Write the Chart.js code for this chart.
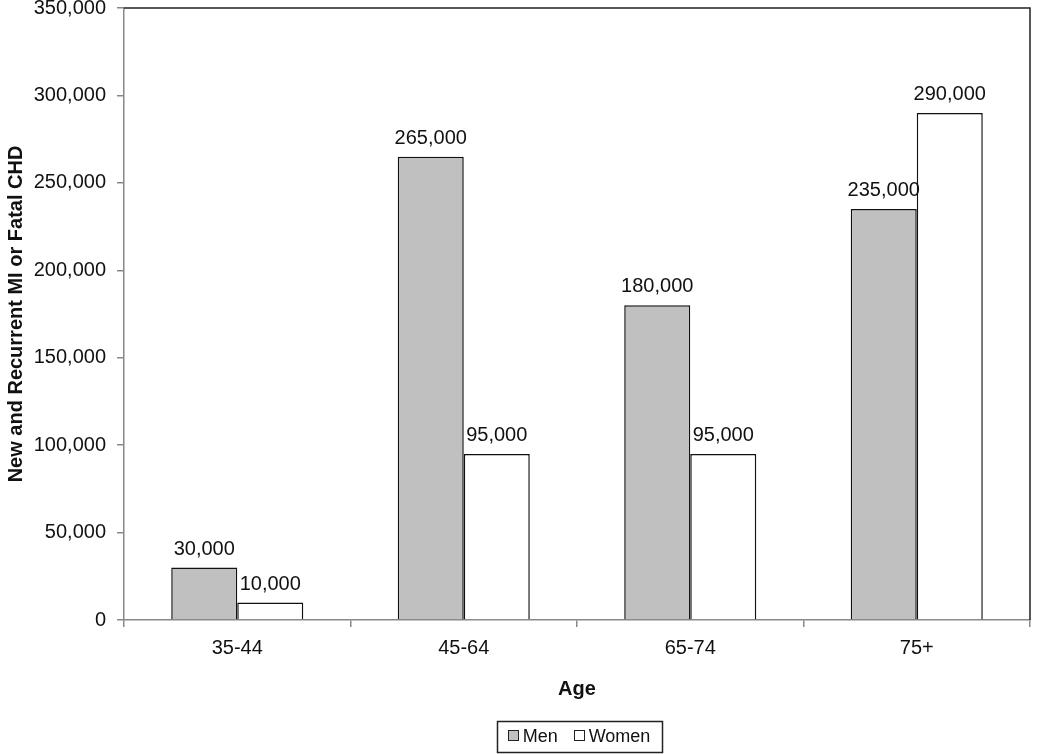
<!DOCTYPE html>
<html>
<head>
<meta charset="utf-8">
<script src="https://cdn.jsdelivr.net/npm/chart.js@4"></script>
<style>
  html, body { margin: 0; padding: 0; background: #fff; }
  #wrap { width: 1050px; height: 754px; }
</style>
</head>
<body>
<div id="wrap"><canvas id="chart" width="1050" height="754"></canvas></div>
<script>
const categories = ['35-44', '45-64', '65-74', '75+'];
const men = [30000, 265000, 180000, 235000];
const women = [10000, 95000, 95000, 290000];
const yTicks = [0, 50000, 100000, 150000, 200000, 250000, 300000, 350000];

const FONT = 'Liberation Sans, Arial, sans-serif';
const fmt = v => v.toLocaleString('en-US');

// value labels over each bar
const barLabels = {
  id: 'barLabels',
  afterDatasetsDraw(chart) {
    const ctx = chart.ctx;
    ctx.save();
    ctx.font = '20px ' + FONT;
    ctx.fillStyle = '#111';
    ctx.textAlign = 'center';
    ctx.textBaseline = 'alphabetic';
    chart.data.datasets.forEach((ds, i) => {
      chart.getDatasetMeta(i).data.forEach((bar, j) => {
        ctx.fillText(fmt(ds.data[j]), bar.x, bar.y - 13);
      });
    });
    ctx.restore();
  }
};

// top/right frame of the plot, and a boxed legend under the axis title
const frame = {
  id: 'frame',
  afterDraw(chart) {
    const { ctx, chartArea: a } = chart;
    ctx.save();
    ctx.strokeStyle = '#222';
    ctx.lineWidth = 1.5;
    ctx.beginPath();
    ctx.moveTo(a.left, a.top);
    ctx.lineTo(a.right, a.top);
    ctx.lineTo(a.right, a.bottom);
    ctx.stroke();

    // legend
    ctx.font = '18px ' + FONT;
    ctx.textBaseline = 'middle';
    ctx.textAlign = 'left';
    const items = chart.data.datasets.map(ds => ({ label: ds.label, fill: ds.backgroundColor, w: ctx.measureText(ds.label).width }));
    const box = 10, gapText = 5, gapItem = 16, pad = 11;
    let total = items.reduce((s, it) => s + box + gapText + it.w, 0) + gapItem * (items.length - 1);
    const cx = (a.left + a.right) / 2 + 2;
    const cy = 736;
    const bw = total + pad * 2, bh = 31;
    ctx.lineWidth = 1.5;
    ctx.strokeRect(Math.round(cx - bw / 2) + 0.5, Math.round(cy - bh / 2) + 0.5, Math.round(bw), bh);
    let x = cx - total / 2;
    items.forEach(it => {
      ctx.fillStyle = it.fill;
      ctx.fillRect(Math.round(x) + 0.5, cy - 5.5, box, box);
      ctx.lineWidth = 1;
      ctx.strokeStyle = '#222';
      ctx.strokeRect(Math.round(x) + 0.5, cy - 5.5, box, box);
      x += box + gapText;
      ctx.fillStyle = '#111';
      ctx.fillText(it.label, x, cy + 1);
      x += it.w + gapItem;
    });
    ctx.restore();
  }
};

new Chart(document.getElementById('chart'), {
  type: 'bar',
  data: {
    labels: categories,
    datasets: [{
      label: 'Men',
      data: men,
      backgroundColor: '#c0c0c0',
      borderColor: '#111',
      borderWidth: 1.5
    }, {
      label: 'Women',
      data: women,
      backgroundColor: '#ffffff',
      borderColor: '#111',
      borderWidth: 1.5
    }]
  },
  options: {
    responsive: false,
    animation: false,
    layout: { padding: { left: 0, right: 20, top: 8, bottom: 44 } },
    datasets: { bar: { categoryPercentage: 0.583, barPercentage: 1.0 } },
    scales: {
      x: {
        offset: true,
        grid: { offset: true, drawOnChartArea: false, tickLength: 7, color: '#888', lineWidth: 1.5 },
        border: { color: '#888', width: 1.5 },
        ticks: { color: '#111', font: { family: FONT, size: 20 }, padding: 9 },
        title: { display: true, text: 'Age', color: '#111', font: { family: FONT, size: 20, weight: 'bold' }, padding: { top: 9, bottom: 9 } },
        afterFit(s) { s.height = 90; }
      },
      y: {
        min: 0,
        max: 350000,
        afterBuildTicks(s) { s.ticks = yTicks.map(v => ({ value: v })); },
        grid: { drawOnChartArea: false, tickLength: 7, color: '#888', lineWidth: 1.5 },
        border: { color: '#888', width: 1.5 },
        ticks: { color: '#111', font: { family: FONT, size: 20 }, padding: 11, callback: v => fmt(v) },
        title: { display: true, text: 'New and Recurrent MI or Fatal CHD', color: '#111', font: { family: FONT, size: 20, weight: 'bold' }, padding: { top: 4, bottom: 0 } },
        afterFit(s) { s.width = 124; s.paddingTop = 0; }
      }
    },
    plugins: {
      legend: { display: false },
      tooltip: { enabled: false }
    }
  },
  plugins: [barLabels, frame]
});
</script>
</body>
</html>
